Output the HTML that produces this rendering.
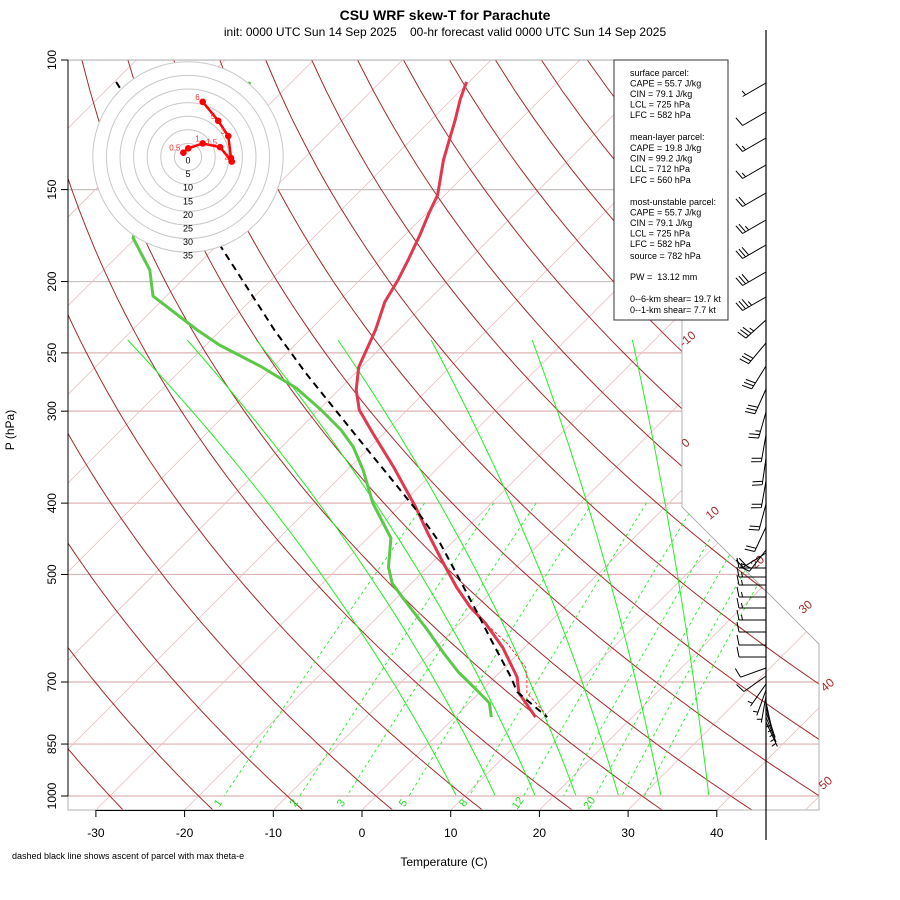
<!DOCTYPE html>
<html><head><meta charset="utf-8"><style>
html,body{margin:0;padding:0;background:#fff;}
svg{display:block;font-family:"Liberation Sans",sans-serif;}
</style></head><body>
<svg id="chart" width="900" height="900" viewBox="0 0 900 900" xmlns="http://www.w3.org/2000/svg">
<defs><clipPath id="plotclip"><path d="M68,60 L682,60 L682,507 L819,644 L819,810 L68,810 Z"/></clipPath>
<clipPath id="lowclip"><path d="M68,60 L682,60 L682,507 L819,644 L819,796 L68,796 Z"/></clipPath></defs>
<text x="445" y="20" text-anchor="middle" font-size="14" font-weight="bold">CSU WRF skew-T for Parachute</text>
<text x="445" y="36" text-anchor="middle" font-size="12" xml:space="preserve">init: 0000 UTC Sun 14 Sep 2025    00-hr forecast valid 0000 UTC Sun 14 Sep 2025</text>
<g id="bg" clip-path="url(#plotclip)"></g>
<g id="bglow" clip-path="url(#lowclip)"></g>
<g id="frame"></g>
<g id="axes"></g>
<g id="profiles"></g>
<g id="hodo"></g>
<g id="barbs"></g>
<g>
<rect x="614" y="60" width="114" height="260" fill="#fff" stroke="#333" stroke-width="1"/>
<g font-size="9" fill="#000">
<text x="630" y="76">surface parcel:</text>
<text x="630" y="86.5">CAPE = 55.7 J/kg</text>
<text x="630" y="97">CIN = 79.1 J/kg</text>
<text x="630" y="107.5">LCL = 725 hPa</text>
<text x="630" y="118">LFC = 582 hPa</text>
<text x="630" y="140">mean-layer parcel:</text>
<text x="630" y="151">CAPE = 19.8 J/kg</text>
<text x="630" y="161.5">CIN = 99.2 J/kg</text>
<text x="630" y="172">LCL = 712 hPa</text>
<text x="630" y="183">LFC = 560 hPa</text>
<text x="630" y="205">most-unstable parcel:</text>
<text x="630" y="215.5">CAPE = 55.7 J/kg</text>
<text x="630" y="226">CIN = 79.1 J/kg</text>
<text x="630" y="236.5">LCL = 725 hPa</text>
<text x="630" y="247">LFC = 582 hPa</text>
<text x="630" y="259">source = 782 hPa</text>
<text x="630" y="280" xml:space="preserve">PW =  13.12 mm</text>
<text x="630" y="302">0--6-km shear= 19.7 kt</text>
<text x="630" y="313">0--1-km shear= 7.7 kt</text>
</g></g>
<text x="444" y="866" text-anchor="middle" font-size="12">Temperature (C)</text>
<text transform="translate(14,430) rotate(-90)" text-anchor="middle" font-size="12">P (hPa)</text>
<text x="12" y="859" font-size="9">dashed black line shows ascent of parcel with max theta-e</text>
</svg>
<script>
// ---- data ----
var tempP = [107.1,113.3,120.6,128.4,136.7,152.6,160.9,172.9,187.0,199.0,213.2,232.7,261.4,280.8,298.9,321.2,357.3,383.9,405.0,439.3,477.9,520.0,553.6,582.0,627.9,689.3,724.6,781.2];
var tempT = [-70.3,-69.0,-67.3,-65.7,-64.1,-60.8,-59.8,-58.3,-56.8,-55.7,-54.7,-52.6,-50.3,-48.0,-45.4,-41.3,-35.1,-31.1,-28.1,-23.8,-19.2,-14.5,-10.7,-7.2,-2.5,2.5,4.5,9.1];
var dewP = [107.1,120.6,141.1,159.9,174.5,192.9,209.3,232.7,243.9,261.4,279.0,298.9,318.2,335.6,360.7,399.8,446.2,488.6,513.6,541.6,595.0,639.4,678.5,717.8,747.5,781.2];
var dewT = [-94.7,-92.7,-92.7,-92.7,-90.3,-84.8,-81.5,-72.7,-68.5,-61.2,-55.0,-49.7,-45.2,-41.9,-38.2,-33.4,-27.4,-24.4,-22.2,-18.9,-12.9,-8.5,-4.7,-0.6,2.3,4.1];
var parcelP = [107.1,181.2,232.7,266.3,325.3,372.1,408.7,453.2,504.1,564.1,613.8,689.3,722.3,781.2];
var parcelT = [-109.8,-78.8,-64.0,-55.6,-42.6,-33.8,-27.7,-21.3,-15.4,-9.2,-4.6,1.8,4.2,10.4];
var virtP = [553.6,582.0,619.6,667.9,689.3,724.6,771.4,781.2];
var virtT = [-10.7,-7.2,-2.5,2.3,3.6,5.4,9.7,10.4];
var hodoU = [-1.7,0.1,5.4,11.8,16.1,15.8,14.8,11.1,5.4];
var hodoV = [1.6,3.2,5.0,3.6,-1.7,-0.4,7.7,13.3,20.3];
var hodoLbl = ["0.5","","1","1.5","2","","3","5","6"];
var barbY = [83,112,138,165,193,220,245,272,297,320,343,366,389,412,435,458,481,504,527,550,553,568,577,585,597,608,620,632,645,657,668,676,684,690,696,702,707,712,717,722];
var barbDir = [240,240,240,240,240,240,240,240,240,228,220,212,204,196,190,188,190,195,205,218,238,270,270,270,270,270,270,270,270,270,250,235,215,200,190,168,164,160,158,155];
var barbSpd = [5,10,15,15,20,25,30,30,35,35,30,30,30,25,20,20,20,20,20,20,20,15,15,15,15,15,15,10,10,10,10,10,5,5,5,5,5,5,5,5];
var tickT = [-30,-20,-10,0,10,20,30,40];
var pLevels = [100,150,200,250,300,400,500,700,850,1000];
var mixW = [1,2,3,5,8,12,16,20,24,28];
var mixLabels = ["1","2","3","5","8","12","","20","",""];
var moistBotT = [8.9,13.3,17.8,22.4,27.2,32.0,37.4];
var moistTopT = [-79.4,-72.7,-64.9,-55.7,-45.2,-33.8,-22.5];
var thetaLbl = ["-10","0","10","20","30","40","50"];
var thetaLblX = [690,688,715,760,808,830,828];
var thetaLblY = [342,446,516,565,610,688,786];

// ---- axis functions ----
var NS="http://www.w3.org/2000/svg";
function yP(p){return 60+736*Math.log10(p/100);}
function xTY(T,y){return 362+8.87*T+(810-y);}
function xT(T,p){return xTY(T,yP(p));}
function mk(tag,attrs,parent){var e=document.createElementNS(NS,tag);for(var k in attrs)e.setAttribute(k,attrs[k]);parent.appendChild(e);return e;}
function polyPts(P,T){return P.map(function(p,i){return xT(T[i],p).toFixed(1)+","+yP(p).toFixed(1);}).join(" ");}
var bg=document.getElementById('bg'), bgl=document.getElementById('bglow');
var i,k,el;
for(i=0;i<pLevels.length;i++){
 el=mk('line',{x1:68,x2:819,y1:yP(pLevels[i]),y2:yP(pLevels[i]),stroke:(pLevels[i]<=200?'#c9c0c0':'#dcb4b4'),'stroke-width':1.2},bg);
 
 
}
for(k=-140;k<=50;k+=10){
 el=mk('line',{x1:xTY(k,810),y1:810,x2:xTY(k,60),y2:60,stroke:'#e9bdbd','stroke-width':0.8},bg);
 
 
}
for(k=-80;k<=220;k+=10){
 var th=k+273.15,pts=[];
 for(var p=90;p<=1060;p+=10){pts.push(xT(th*Math.pow(p/1000,0.2857)-273.15,p).toFixed(1)+","+yP(p).toFixed(1));}
 el=mk('polyline',{points:pts.join(' '),fill:'none',stroke:'#a52a2a','stroke-width':1},bg);
 
 
}
for(i=0;i<mixW.length;i++){
 var pts2=[];
 for(var p2=400;p2<=1000;p2+=10){var e=mixW[i]*p2/(622+mixW[i]);var L=Math.log(e/6.112);var td=243.5*L/(17.67-L);pts2.push(xT(td,p2).toFixed(1)+","+yP(p2).toFixed(1));}
 el=mk('polyline',{points:pts2.join(' '),fill:'none',stroke:'#22ee22','stroke-width':0.9,'stroke-dasharray':'3,3'},bgl);
 
 
 if(mixLabels[i]){
  var e0=mixW[i]*1000/(622+mixW[i]);var L0=Math.log(e0/6.112);var td0=243.5*L0/(17.67-L0);
  var lx=xT(td0,1000)-3, ly=805;
  el=mk('text',{x:lx,y:ly,transform:'rotate(-55 '+lx+' '+ly+')','font-size':11,fill:'#22dd22','text-anchor':'middle'},document.getElementById('axes'));
  el.textContent=mixLabels[i];
  
  
 }
}
for(i=0;i<moistBotT.length;i++){
 var x0=xTY(moistTopT[i],340),x2=xTY(moistBotT[i],795),h=455,avg=(x2-x0)/h;
 var x1=x0+1.3*avg*h/2;
 el=mk('path',{d:'M'+x0+',340 Q'+x1+','+(340+h/2)+' '+x2+',795',fill:'none',stroke:'#22ee22','stroke-width':1},bgl);
 
 
}
for(i=0;i<thetaLbl.length;i++){
 el=mk('text',{x:thetaLblX[i],y:thetaLblY[i],transform:'rotate(-40 '+thetaLblX[i]+' '+thetaLblY[i]+')','font-size':12,fill:'#a52a2a','text-anchor':'middle'},document.getElementById('axes'));
 el.textContent=thetaLbl[i];
 
 
}
var fr=document.getElementById('frame');
el=mk('path',{d:'M68,60 L682,60 L682,507 L819,644 L819,810 L68,810 Z',fill:'none',stroke:'#b0b0b0','stroke-width':1},fr);


var ax=document.getElementById('axes');
el=mk('line',{x1:xTY(tickT[0],810),x2:xTY(tickT[tickT.length-1],810),y1:810.5,y2:810.5,stroke:'#000','stroke-width':1},ax);


for(i=0;i<tickT.length;i++){
 var tx=xTY(tickT[i],810);
 el=mk('line',{x1:tx,x2:tx,y1:810,y2:817,stroke:'#000'},ax);
 
 
 el=mk('text',{x:tx,y:837,'font-size':12,'text-anchor':'middle'},ax);
 el.textContent=tickT[i];
 
 
}
el=mk('line',{x1:68,x2:68,y1:60,y2:yP(1000),stroke:'#000'},ax);


for(i=0;i<pLevels.length;i++){
 var ty=yP(pLevels[i]);
 el=mk('line',{x1:61,x2:68,y1:ty,y2:ty,stroke:'#000'},ax);
 
 
 el=mk('text',{x:56,y:ty,transform:'rotate(-90 56 '+ty+')','font-size':12,'text-anchor':'middle'},ax);
 el.textContent=pLevels[i];
 
 
}
var pr=document.getElementById('profiles');
el=mk('polyline',{points:polyPts(dewP,dewT),fill:'none',stroke:'#5cc84a','stroke-width':3,'stroke-linejoin':'round'},pr);


el=mk('polyline',{points:polyPts(virtP,virtT),fill:'none',stroke:'#ff2020','stroke-width':0.9,'stroke-dasharray':'3,2'},pr);


el=mk('polyline',{points:polyPts(tempP,tempT),fill:'none',stroke:'#e0384f','stroke-width':3,'stroke-linejoin':'round'},pr);


el=mk('polyline',{points:polyPts(parcelP,parcelT),fill:'none',stroke:'#000','stroke-width':2,'stroke-dasharray':'7,5'},pr);


var hd=document.getElementById('hodo'),cx=188,cy=157,sc=2.72;
el=mk('circle',{cx:cx,cy:cy,r:95.5,fill:'#fff',stroke:'none'},hd);


for(k=1;k<=7;k++){
 el=mk('circle',{cx:cx,cy:cy,r:k*13.6,fill:'none',stroke:'#c8c8c8','stroke-width':1},hd);
 
 
}
for(k=0;k<=7;k++){
 el=mk('text',{x:cx,y:cy+6.5+k*13.6,'font-size':9,'text-anchor':'middle'},hd);
 el.textContent=k*5;
 
 
}
var hp=hodoU.map(function(u,j){return (cx+u*sc).toFixed(1)+','+(cy-hodoV[j]*sc).toFixed(1);}).join(' ');
el=mk('polyline',{points:hp,fill:'none',stroke:'#ff0000','stroke-width':2.5},hd);


for(i=0;i<hodoU.length;i++){
 var hx=cx+hodoU[i]*sc,hy=cy-hodoV[i]*sc;
 el=mk('circle',{cx:hx,cy:hy,r:3.3,fill:'#ff0000'},hd);
 
 
 if(hodoLbl[i]){
  el=mk('text',{x:hx-3,y:hy-2,'font-size':8,fill:'#ff3030','text-anchor':'end'},hd);
  el.textContent=hodoLbl[i];
  
  
 }
}
var bb=document.getElementById('barbs');
el=mk('line',{x1:766,x2:766,y1:30,y2:840,stroke:'#000','stroke-width':1.2},bb);


for(i=0;i<barbY.length;i++){
 var d=barbDir[i]*Math.PI/180,ux=Math.sin(d),uy=-Math.cos(d),Ls=27;
 var sx=766,sy=barbY[i],exx=sx+ux*Ls,eyy=sy+uy*Ls;
 var dd='M'+sx+','+sy+' L'+exx.toFixed(1)+','+eyy.toFixed(1);
 var px=-uy,py=ux;
 var s=barbSpd[i],pos=0;
 while(s>=10){var bx=exx-ux*pos,by=eyy-uy*pos;dd+=' M'+bx.toFixed(1)+','+by.toFixed(1)+' l'+((px*10+ux*2)).toFixed(1)+','+((py*10+uy*2)).toFixed(1);pos+=3.5;s-=10;}
 if(s>=5){if(pos===0)pos=3.5;var bx2=exx-ux*pos,by2=eyy-uy*pos;dd+=' M'+bx2.toFixed(1)+','+by2.toFixed(1)+' l'+((px*5+ux*1)).toFixed(1)+','+((py*5+uy*1)).toFixed(1);}
 el=mk('path',{d:dd,fill:'none',stroke:'#000','stroke-width':1},bb);
 
 
}
</script>
</body></html>
